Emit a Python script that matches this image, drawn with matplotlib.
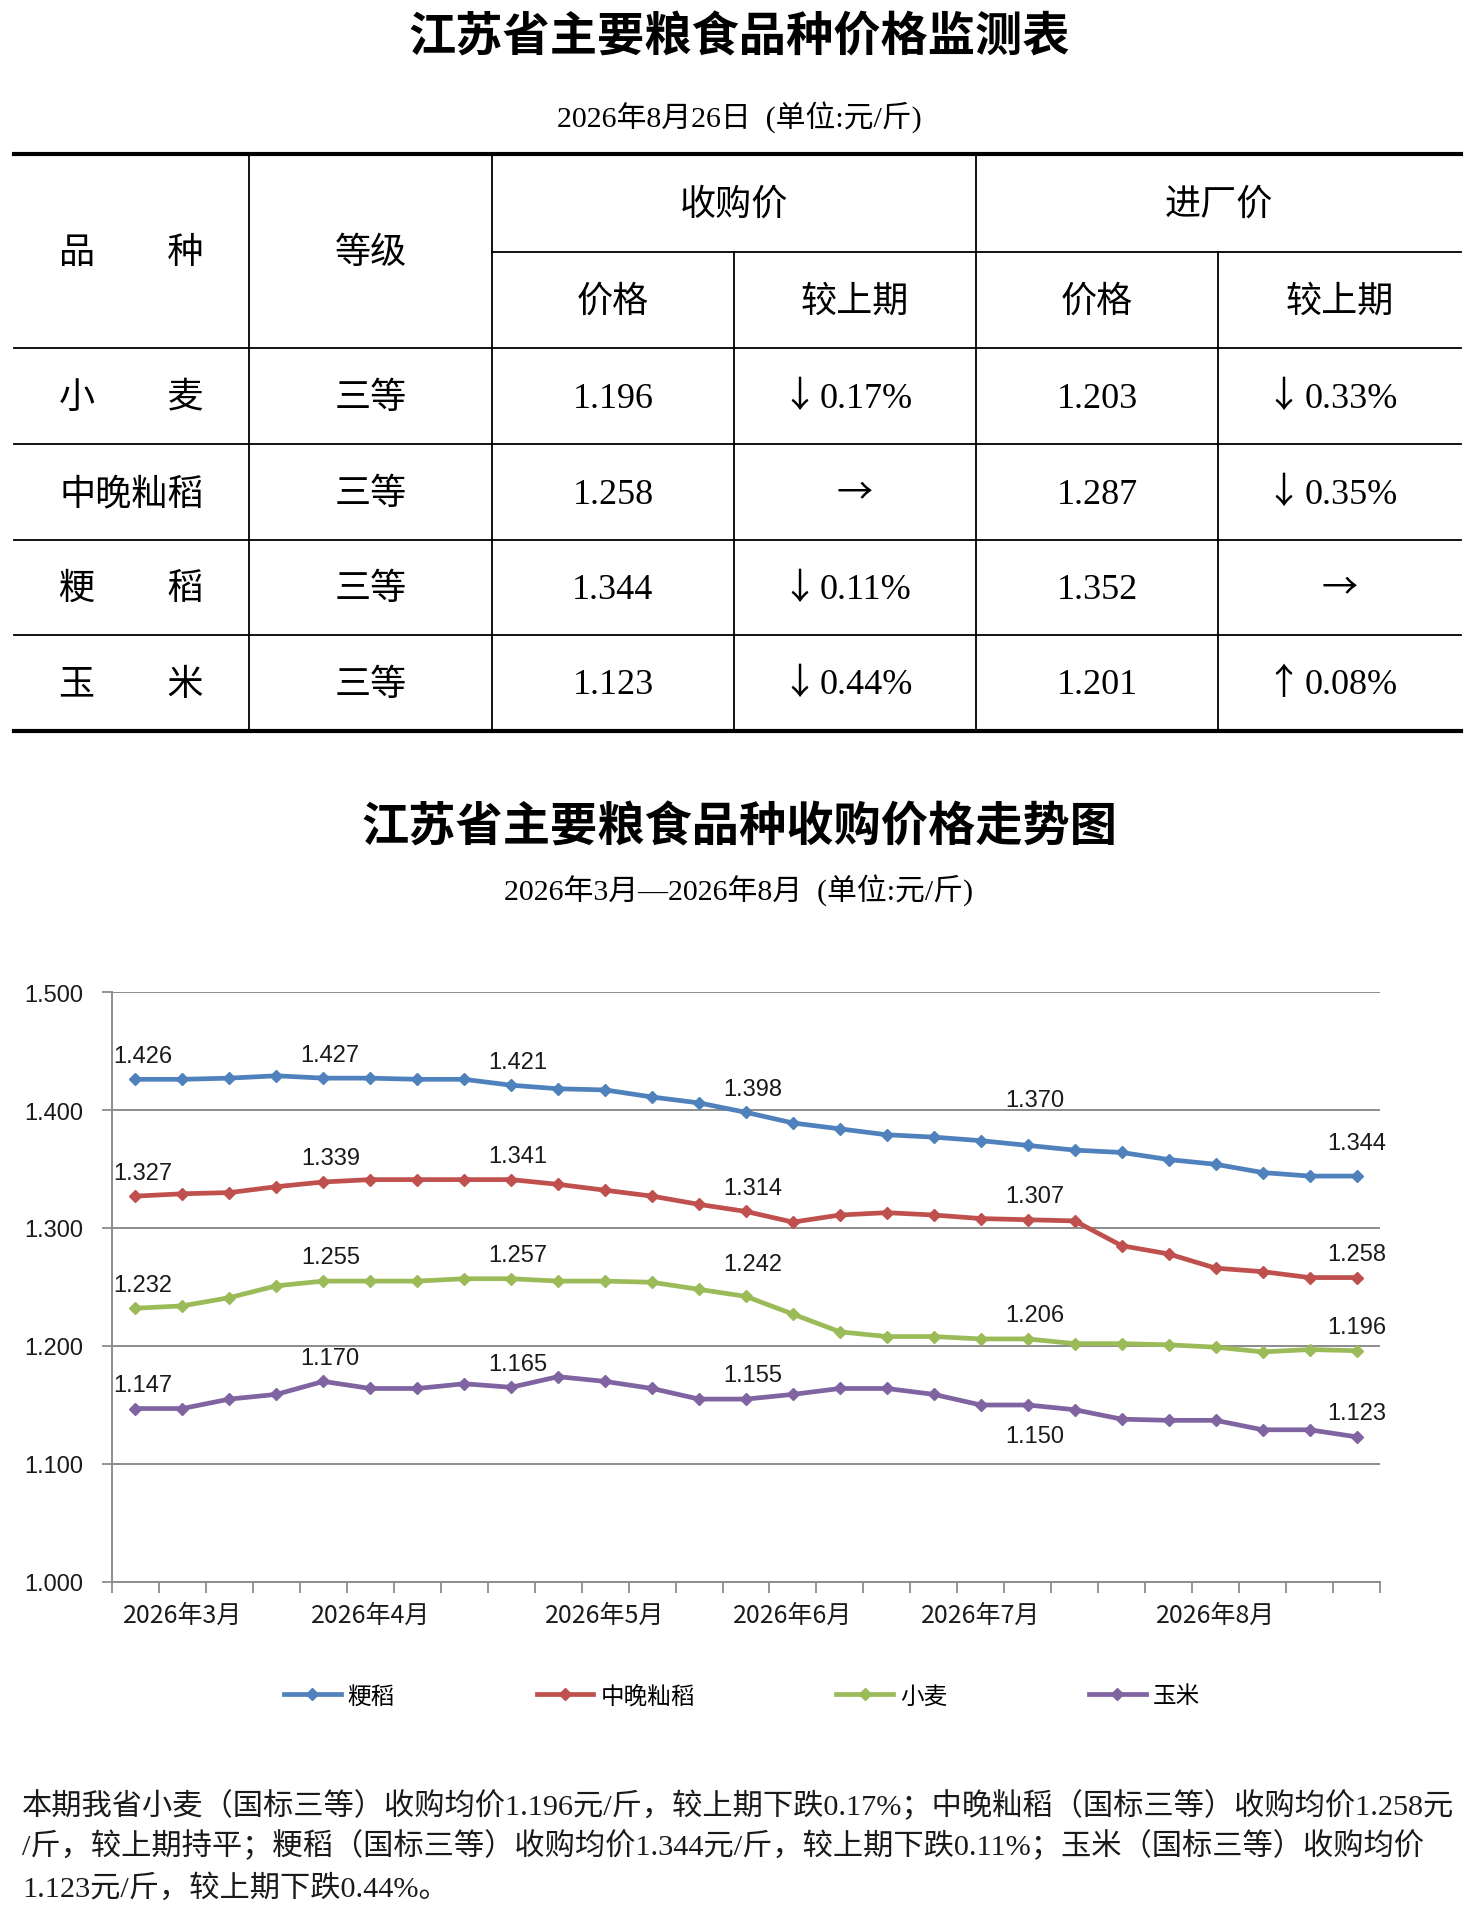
import numpy as np
import matplotlib
matplotlib.use("Agg")
import matplotlib.pyplot as plt
from matplotlib.lines import Line2D

# table data
varieties = ["小\u3000\u3000麦", "中晚籼稻", "粳\u3000\u3000稻", "玉\u3000\u3000米"]
grades = ["三等", "三等", "三等", "三等"]
buy_price = ["1.196", "1.258", "1.344", "1.123"]
buy_change = ["↓0.17%", "→", "↓0.11%", "↓0.44%"]
mill_price = ["1.203", "1.287", "1.352", "1.201"]
mill_change = ["↓0.33%", "↓0.35%", "→", "↑0.08%"]

# weekly purchase prices, 2026-03 .. 2026-08
japonica = [1.426, 1.426, 1.427, 1.429, 1.427, 1.427, 1.426, 1.426, 1.421, 1.418,
            1.417, 1.411, 1.406, 1.398, 1.389, 1.384, 1.379, 1.377, 1.374, 1.370,
            1.366, 1.364, 1.358, 1.354, 1.347, 1.344, 1.344]
indica = [1.327, 1.329, 1.330, 1.335, 1.339, 1.341, 1.341, 1.341, 1.341, 1.337,
          1.332, 1.327, 1.320, 1.314, 1.305, 1.311, 1.313, 1.311, 1.308, 1.307,
          1.306, 1.285, 1.278, 1.266, 1.263, 1.258, 1.258]
wheat = [1.232, 1.234, 1.241, 1.251, 1.255, 1.255, 1.255, 1.257, 1.257, 1.255,
         1.255, 1.254, 1.248, 1.242, 1.227, 1.212, 1.208, 1.208, 1.206, 1.206,
         1.202, 1.202, 1.201, 1.199, 1.195, 1.197, 1.196]
corn = [1.147, 1.147, 1.155, 1.159, 1.170, 1.164, 1.164, 1.168, 1.165, 1.174,
        1.170, 1.164, 1.155, 1.155, 1.159, 1.164, 1.164, 1.159, 1.150, 1.150,
        1.146, 1.138, 1.137, 1.137, 1.129, 1.129, 1.123]
series_names = ["粳稻", "中晚籼稻", "小麦", "玉米"]
series_colors = ["#4F81BD", "#C0504D", "#9BBB59", "#8064A2"]
label_idx = [0, 4, 8, 13, 19, 26]
month_labels = ["2026年3月", "2026年4月", "2026年5月", "2026年6月", "2026年7月", "2026年8月"]
month_pos = [1, 5, 10, 14, 18, 23]

footnote = ["本期我省小麦（国标三等）收购均价1.196元/斤，较上期下跌0.17%；中晚籼稻（国标三等）收购均价1.258元",
            "/斤，较上期持平；粳稻（国标三等）收购均价1.344元/斤，较上期下跌0.11%；玉米（国标三等）收购均价",
            "1.123元/斤，较上期下跌0.44%。"]

SERIF = ["Liberation Serif", "Noto Sans CJK SC", "DejaVu Sans"]
CJK = ["Noto Sans CJK SC", "DejaVu Sans"]
SANS = ["Liberation Sans", "Noto Sans CJK SC", "DejaVu Sans"]

# label lifts (pt) where the original labels were nudged
lift = {("粳稻", 19): 33, ("粳稻", 26): 24, ("小麦", 13): 23, ("玉米", 19): -22}

W, H = 1476, 1915
fig = plt.figure(figsize=(W / 100, H / 100), dpi=100)
bg = fig.add_axes([0, 0, 1, 1])
bg.set_xlim(0, W)
bg.set_ylim(H, 0)
bg.axis("off")

# ---- table part ----
bg.text(739, 38, "江苏省主要粮食品种价格监测表", family=CJK, weight="bold",
        fontsize=34, ha="center", va="center")
bg.text(739, 117, "2026年8月26日  (单位:元/斤)", family=SERIF, fontsize=21.5,
        ha="center", va="center")

xl, xr = 14, 1461
cols = [14, 249, 492, 734, 976, 1218, 1461]
top, mid, hdr = 155, 253, 349
rows = [349, 445, 541, 636, 732]

bg.plot([xl, xr], [top, top], color="black", lw=3)
bg.plot([xl, xr], [rows[-1], rows[-1]], color="black", lw=3)
bg.plot([cols[2], xr], [mid, mid], color="black", lw=1.3)
for y in rows[:-1]:
    bg.plot([xl, xr], [y, y], color="black", lw=1.3)
for x in [cols[1], cols[2], cols[4]]:
    bg.plot([x, x], [top, rows[-1]], color="black", lw=1.3)
for x in [cols[3], cols[5]]:
    bg.plot([x, x], [mid, rows[-1]], color="black", lw=1.3)

cx = [(cols[i] + cols[i + 1]) / 2 for i in range(6)]
tfs = 26


def cell(x, y, s):
    # arrows come from the CJK font, numbers from the serif one
    if s and s[0] in "↓↑→":
        if len(s) == 1:
            bg.text(x, y, s, family=CJK, fontsize=tfs, ha="center", va="center")
        else:
            bg.text(x - 56, y, s[0], family=CJK, fontsize=tfs, ha="center", va="center")
            bg.text(x - 35, y + 2, s[1:], family=SERIF, fontsize=tfs, ha="left", va="center")
    else:
        bg.text(x, y + 2, s, family=SERIF, fontsize=tfs, ha="center", va="center")


cell(cx[0], (top + hdr) / 2, "品\u3000\u3000种")
cell(cx[1], (top + hdr) / 2, "等级")
cell((cols[2] + cols[4]) / 2, (top + mid) / 2, "收购价")
cell((cols[4] + cols[6]) / 2, (top + mid) / 2, "进厂价")
for i, s in zip(range(2, 6), ["价格", "较上期", "价格", "较上期"]):
    cell(cx[i], (mid + hdr) / 2, s)

for r in range(4):
    yc = (rows[r] + rows[r + 1]) / 2
    vals = [varieties[r], grades[r], buy_price[r], buy_change[r], mill_price[r], mill_change[r]]
    for c, v in enumerate(vals):
        cell(cx[c], yc, v)

# ---- chart part ----
bg.text(739, 828, "江苏省主要粮食品种收购价格走势图", family=CJK, weight="bold",
        fontsize=34, ha="center", va="center")
bg.text(739, 890, "2026年3月—2026年8月  (单位:元/斤)", family=SERIF, fontsize=21.5,
        ha="center", va="center")

ax_l, ax_r, ax_t, ax_b = 112, 1380, 993, 1583
ax = fig.add_axes([ax_l / W, 1 - ax_b / H, (ax_r - ax_l) / W, (ax_b - ax_t) / H])

x = np.arange(len(japonica))
handles = []
for vals, name, col in zip([japonica, indica, wheat, corn], series_names, series_colors):
    ax.plot(x, vals, color=col, lw=3.4, marker="D", ms=6.5, zorder=3)
    handles.append(Line2D([0], [0], color=col, lw=3.4, marker="D", ms=6.5, label=name))
    for i in label_idx:
        dy = lift.get((name, i), 17)
        dx = 0 if i == len(x) - 1 else 5
        ax.annotate(f"{vals[i]:.3f}", (x[i], vals[i]), xytext=(dx, dy),
                    textcoords="offset points", ha="center", va="center",
                    family=SANS, fontsize=17, color="#1a1a1a")

ax.set_xlim(-0.5, len(x) - 0.5)
ax.set_ylim(1.0, 1.5)
ax.set_yticks(np.arange(1.0, 1.501, 0.1))
ax.set_yticklabels([f"{v:.3f}" for v in np.arange(1.0, 1.501, 0.1)], family=SANS,
                   fontsize=17, color="#1a1a1a")
ax.yaxis.grid(True, color="#8c8c8c", lw=1.4)
ax.set_axisbelow(True)
ax.set_xticks(np.arange(-0.5, len(x)), labels=[])
ax.set_xticks(month_pos, labels=month_labels, minor=True)
ax.tick_params(axis="x", which="major", direction="out", length=8, width=1.3, color="#8c8c8c")
ax.tick_params(axis="x", which="minor", length=0, pad=14, labelsize=18, labelcolor="#1a1a1a")
ax.tick_params(axis="y", direction="out", length=7, width=1.3, color="#8c8c8c", pad=14)
for lab in ax.get_xticklabels(minor=True):
    lab.set_family(CJK)
for side in ["top", "right"]:
    ax.spines[side].set_visible(False)
for side in ["left", "bottom"]:
    ax.spines[side].set_color("#8c8c8c")
    ax.spines[side].set_linewidth(1.4)

fig.legend(handles=handles, loc="center", bbox_to_anchor=(742 / W, 1 - 1697 / H), ncol=4,
           frameon=False, prop={"family": CJK, "size": 17}, handlelength=2.4,
           handletextpad=0.3, columnspacing=6.0)

for k, line in enumerate(footnote):
    bg.text(22, [1806, 1846, 1888][k], line, family=SERIF, fontsize=21.8,
            ha="left", va="center", color="#1a1a1a")

fig.savefig("out.png", dpi=100)
